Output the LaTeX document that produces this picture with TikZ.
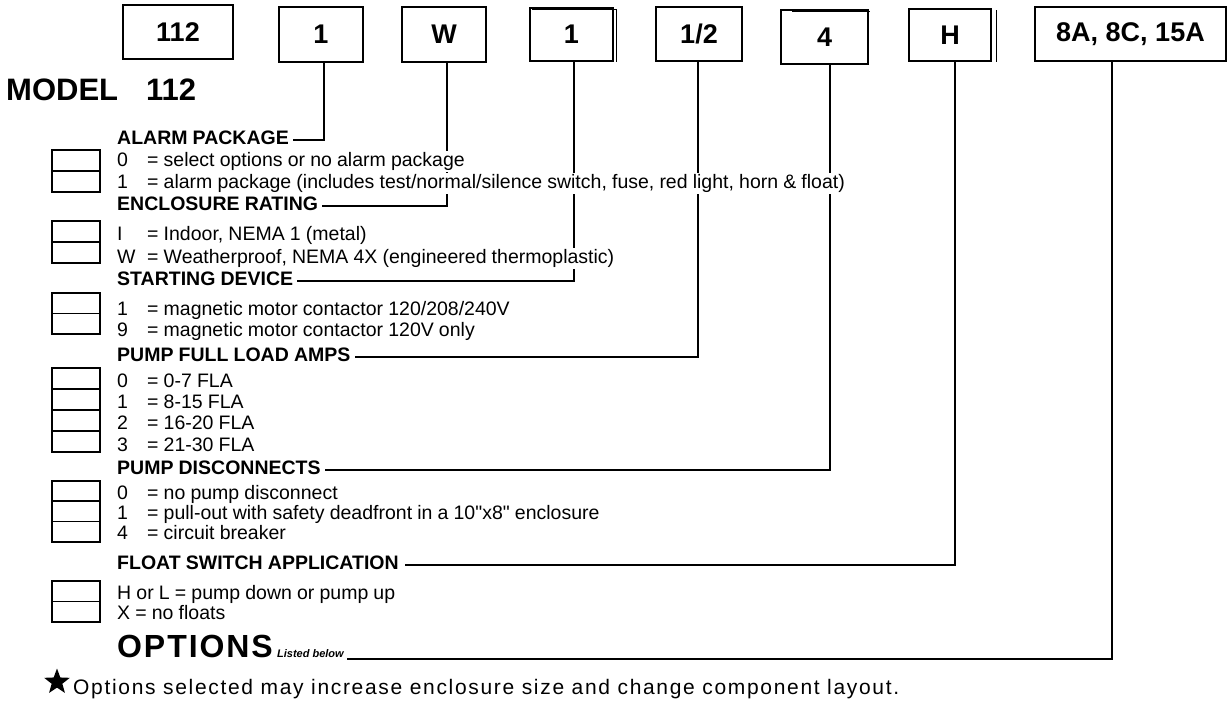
\documentclass[tikz,border=0pt]{standalone}
\usepackage{fontspec}
\setmainfont{Liberation Sans}
\newfontfamily\headf[WordSpace=0.45]{Liberation Sans}
\newfontfamily\itemf[WordSpace=0.95]{Liberation Sans}
\newfontfamily\starf[LetterSpace=8]{Liberation Sans}
\newfontfamily\optf[LetterSpace=6]{Liberation Sans}
\usetikzlibrary{shapes.geometric}
\begin{document}
\begin{tikzpicture}[x=1pt,y=-1pt,
  topbox/.style={draw, line width=1.8pt, inner sep=0pt, font=\bfseries\fontsize{27}{27}\selectfont},
  sbox/.style={draw, line width=1.6pt, minimum width=48pt, inner sep=0pt},
  head/.style={anchor=west, inner sep=0pt, text height=13.5pt, text depth=4.5pt, font=\headf\bfseries\fontsize{19.5}{20}\selectfont},
  item/.style={anchor=base west, inner xsep=1pt, inner ysep=0pt, text height=15pt, text depth=6pt, fill=white, font=\itemf\fontsize{19.5}{20}\selectfont},
  conn/.style={line width=1.6pt, line join=miter}]
\useasboundingbox (0,0) rectangle (1231,709);

% top code boxes
\node[topbox, minimum width=110pt, minimum height=54pt] (b112) at (178,32) {112};
\node[topbox, minimum width=84pt, minimum height=55pt] (b1) at (321,34.5) {1};
\node[topbox, minimum width=84pt, minimum height=55pt] (bW) at (444,34.5) {W};
\node[topbox, minimum width=83pt, minimum height=53pt] (bOne) at (571.5,34.5) {1};
\node[topbox, minimum width=86pt, minimum height=54pt] (bHalf) at (699,34) {1/2};
\node[topbox, minimum width=87pt, minimum height=54pt] (bFour) at (824.5,37) {4};
\node[topbox, minimum width=82pt, minimum height=52pt] (bH) at (950,35) {H};
\node[topbox, minimum width=191pt, minimum height=54pt] (b8A) at (1130.5,34) {8A, 8C, 15A};
\draw[line width=0.8pt] ([xshift=4pt,yshift=-2pt]bH.north east) -- ([xshift=4pt]bH.south east);
\draw[line width=0.8pt] ([xshift=3pt,yshift=-2pt]bOne.north west) -- ([xshift=2pt,yshift=-2pt]bOne.north east) -- ([xshift=2pt]bOne.south east);
\draw[line width=0.8pt] ([xshift=12pt,yshift=-2.5pt]bFour.north west) -- ([xshift=1pt,yshift=-2.5pt]bFour.north east);

% title
\node[anchor=base west, inner sep=0pt, font=\bfseries\fontsize{31}{31}\selectfont] (model) at (6,100) {MODEL\hspace{28pt}112};

% headings
\node[head] (hAlarm) at (117,140) {ALARM PACKAGE};
\node[head] (hEncl) at (117,206) {ENCLOSURE RATING};
\node[head] (hStart) at (117,281) {STARTING DEVICE};
\node[head] (hFLA) at (117,357) {PUMP FULL LOAD AMPS};
\node[head] (hDisc) at (117,470) {PUMP DISCONNECTS};
\node[head] (hFloat) at (117,565) {FLOAT SWITCH APPLICATION};

% connectors (drawn first, item texts mask them)
\draw[conn] ([xshift=3pt]b1.south) |- ([xshift=4pt]hAlarm.east);
\draw[conn] ([xshift=3pt]bW.south) |- ([xshift=4pt]hEncl.east);
\draw[conn] ([xshift=2.5pt]bOne.south) |- ([xshift=4pt]hStart.east);
\draw[conn] ([xshift=-1pt]bHalf.south) |- ([xshift=4pt]hFLA.east);
\draw[conn] ([xshift=5.5pt]bFour.south) |- ([xshift=4pt]hDisc.east);
\draw[conn] ([xshift=5pt]bH.south) |- ([xshift=6pt]hFloat.east);

% small selection boxes
\node[sbox, minimum height=42pt] (sAlarm) at (76,171) {};
\draw[line width=1.2pt] (sAlarm.west) -- (sAlarm.east);
\node[sbox, minimum height=42pt] (sEncl) at (76,242) {};
\draw[line width=1.2pt] (sEncl.west) -- (sEncl.east);
\node[sbox, minimum height=41pt] (sStart) at (76,313.5) {};
\draw[line width=1.2pt] (sStart.west) -- (sStart.east);
\node[sbox, minimum height=84pt] (sFLA) at (76,410) {};
\draw[line width=1.2pt] ([yshift=-21pt]sFLA.west) -- ([yshift=-21pt]sFLA.east);
\draw[line width=1.2pt] (sFLA.west) -- (sFLA.east);
\draw[line width=1.2pt] ([yshift=21pt]sFLA.west) -- ([yshift=21pt]sFLA.east);
\node[sbox, minimum height=61pt] (sDisc) at (76,511.5) {};
\draw[line width=1.2pt] ([yshift=-10pt]sDisc.west) -- ([yshift=-10pt]sDisc.east);
\draw[line width=1.2pt] ([yshift=10.5pt]sDisc.west) -- ([yshift=10.5pt]sDisc.east);
\node[sbox, minimum height=41pt] (sFloat) at (76,601.5) {};
\draw[line width=1.2pt] (sFloat.west) -- (sFloat.east);

% items
\node[item] (a0k) at (116,166) {0};
\node[item] (a0v) at (146,166) {= select options or no alarm package};
\node[item] (a1k) at (116,188) {1};
\node[item] (a1v) at (146,188) {= alarm package (includes test/normal/silence switch, fuse, red light, horn \& float)};
\node[item] (e0k) at (116,240) {I};
\node[item] (e0v) at (146,240) {= Indoor, NEMA 1 (metal)};
\node[item] (e1k) at (116,263) {W};
\node[item] (e1v) at (146,263) {= Weatherproof, NEMA 4X (engineered thermoplastic)};
\node[item] (s0k) at (116,315) {1};
\node[item] (s0v) at (146,315) {= magnetic motor contactor 120/208/240V};
\node[item] (s1k) at (116,336) {9};
\node[item] (s1v) at (146,336) {= magnetic motor contactor 120V only};
\node[item] (f0k) at (116,387) {0};
\node[item] (f0v) at (146,387) {= 0-7 FLA};
\node[item] (f1k) at (116,408) {1};
\node[item] (f1v) at (146,408) {= 8-15 FLA};
\node[item] (f2k) at (116,429) {2};
\node[item] (f2v) at (146,429) {= 16-20 FLA};
\node[item] (f3k) at (116,451) {3};
\node[item] (f3v) at (146,451) {= 21-30 FLA};
\node[item] (d0k) at (116,499) {0};
\node[item] (d0v) at (146,499) {= no pump disconnect};
\node[item] (d1k) at (116,519) {1};
\node[item] (d1v) at (146,519) {= pull-out with safety deadfront in a 10"x8" enclosure};
\node[item] (d2k) at (116,539) {4};
\node[item] (d2v) at (146,539) {= circuit breaker};
\node[item] (fl0) at (116,599) {H or L = pump down or pump up};
\node[item] (fl1) at (116,619) {X = no floats};

% options
\node[anchor=base west, inner sep=0pt, font=\optf\bfseries\fontsize{32}{32}\selectfont] (opt) at (117,657) {OPTIONS};
\node[anchor=base west, inner sep=0pt, font=\bfseries\itshape\fontsize{11}{11}\selectfont] (lst) at ([xshift=4pt]opt.base east) {Listed below};
\coordinate (optEnd) at ([xshift=3pt,yshift=-2pt]lst.base east);
\draw[conn] ([xshift=-18.5pt]b8A.south) |- (optEnd);

% star note
\node[star, star points=5, star point ratio=2.4, fill=black, minimum size=27pt, inner sep=0pt] (star) at (57,682) {};
\node[anchor=base west, inner sep=0pt, font=\starf\fontsize{21}{21}\selectfont] (note) at (73,694) {Options selected may increase enclosure size and change component layout.};
\end{tikzpicture}
\end{document}
